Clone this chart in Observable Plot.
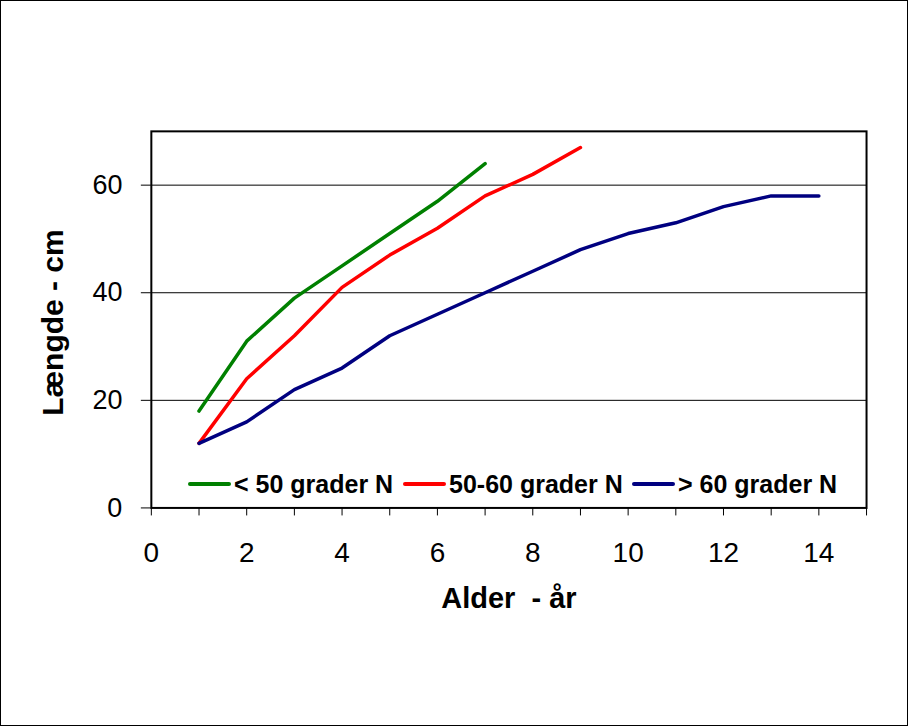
<!DOCTYPE html>
<html>
<head>
<meta charset="utf-8">
<script src="https://cdn.jsdelivr.net/npm/d3@7"></script>
<script src="https://cdn.jsdelivr.net/npm/@observablehq/plot@0.6"></script>
<style>
  html, body { margin: 0; padding: 0; background: #fff; }
  #wrap { position: relative; width: 908px; height: 726px; border: 1px solid #000; box-sizing: border-box; overflow: hidden; font-family: "Liberation Sans", Arial, sans-serif; }
  #chart { position: absolute; left: -1px; top: -1px; }
  .leg { position: absolute; top: 468px; height: 30px; display: flex; align-items: center; font-weight: bold; font-size: 25px; color: #000; white-space: nowrap; }
  .leg .sw { display: inline-block; width: 43px; height: 4px; margin-right: 3px; border-radius: 2px; }
</style>
</head>
<body>
<div id="wrap"><div id="chart"></div></div>
<script>
const seriesNames = ["< 50 grader N", "50-60 grader N", "> 60 grader N"];
const seriesColors = ["#008000", "#ff0000", "#000080"];

const agesGreen = [1, 2, 3, 4, 5, 6, 7];
const lengthGreen = [18, 31, 39, 45, 51, 57, 64];

const agesRed = [1, 2, 3, 4, 5, 6, 7, 8, 9];
const lengthRed = [12, 24, 32, 41, 47, 52, 58, 62, 67];

const agesBlue = [1, 2, 3, 4, 5, 6, 7, 8, 9, 10, 11, 12, 13, 14];
const lengthBlue = [12, 16, 22, 26, 32, 36, 40, 44, 48, 51, 53, 56, 58, 58];

const xTicksMinor = [0, 1, 2, 3, 4, 5, 6, 7, 8, 9, 10, 11, 12, 13, 14, 15];
const xTickLabels = [0, 2, 4, 6, 8, 10, 12, 14];
const yTickLabels = [0, 20, 40, 60];

const xTitle = "Alder  - år";
const yTitle = "Længde - cm";

const data = [
  ...agesGreen.map((a, i) => ({series: seriesNames[0], age: a, len: lengthGreen[i]})),
  ...agesRed.map((a, i) => ({series: seriesNames[1], age: a, len: lengthRed[i]})),
  ...agesBlue.map((a, i) => ({series: seriesNames[2], age: a, len: lengthBlue[i]}))
];

const chart = Plot.plot({
  width: 908,
  height: 726,
  marginLeft: 151,
  marginRight: 41,
  marginTop: 131,
  marginBottom: 218,
  style: {background: "transparent", fontFamily: "'Liberation Sans', Arial, sans-serif", color: "#000"},
  x: {domain: [0, 15]},
  y: {domain: [0, 70]},
  color: {domain: seriesNames, range: seriesColors},
  marks: [
    Plot.gridY(yTickLabels.filter(d => d > 0), {stroke: "#000", strokeOpacity: 1, strokeWidth: 1}),
    Plot.line(data, {x: "age", y: "len", z: "series", stroke: "series", strokeWidth: 3.5, strokeLinecap: "round", strokeLinejoin: "round"}),
    Plot.frame({stroke: "#000", strokeWidth: 2}),
    Plot.axisX(xTicksMinor, {tickSize: 8, tickFormat: () => "", label: null, strokeWidth: 1}),
    Plot.axisX(xTickLabels, {tickSize: 0, tickPadding: 34, fontSize: 28, label: null}),
    Plot.axisY(yTickLabels, {tickSize: 10, tickPadding: 19, fontSize: 27, label: null, strokeWidth: 1}),
    Plot.text([xTitle], {frameAnchor: "bottom", lineAnchor: "top", dy: 80, fontSize: 29, fontWeight: "bold", textAnchor: "middle"}),
    Plot.text([yTitle], {frameAnchor: "left", rotate: -90, dx: -98, dy: 3, fontSize: 30, fontWeight: "bold", textAnchor: "middle"})
  ]
});
document.getElementById("chart").appendChild(chart);

const legLefts = [187, 402, 631];
const wrap = document.getElementById("wrap");
seriesNames.forEach((name, i) => {
  const item = document.createElement("div");
  item.className = "leg";
  item.style.left = legLefts[i] + "px";
  const sw = document.createElement("span");
  sw.className = "sw";
  sw.style.background = seriesColors[i];
  const t = document.createElement("span");
  t.textContent = name;
  item.appendChild(sw);
  item.appendChild(t);
  wrap.appendChild(item);
});
</script>
</body>
</html>
